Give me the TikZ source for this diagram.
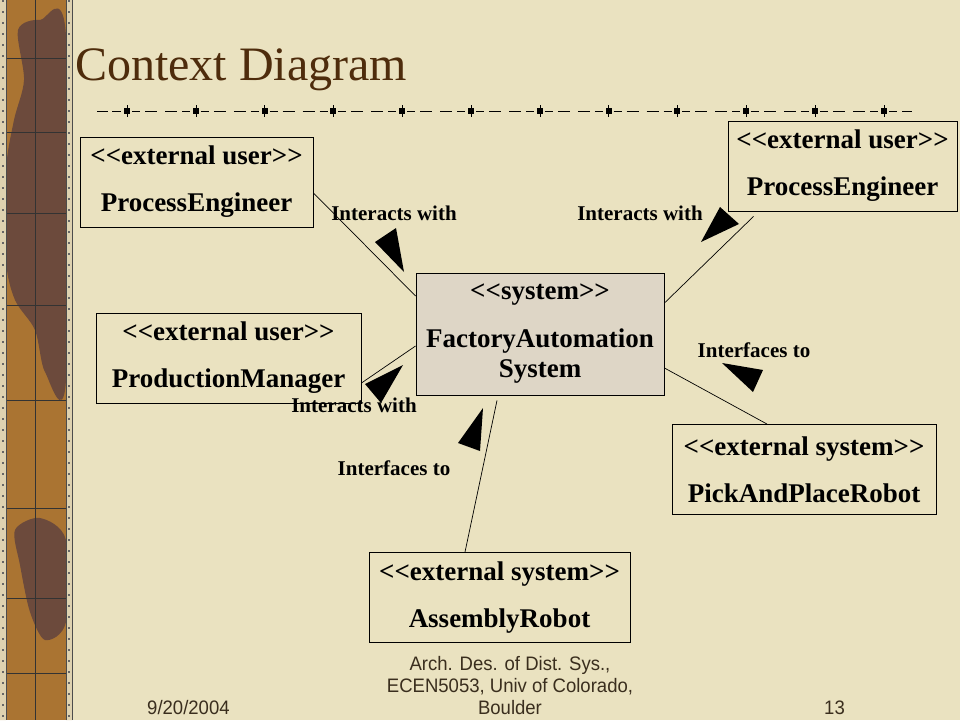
\documentclass[tikz,border=0pt]{standalone}
\usepackage{fontspec}
\setmainfont{Liberation Serif}
\newfontfamily\footfont[FakeStretch=0.95]{Liberation Sans}
\definecolor{paper}{RGB}{234,226,192}
\definecolor{sysfill}{RGB}{222,214,198}
\definecolor{titlebrown}{RGB}{78,44,12}
\definecolor{wood}{RGB}{170,116,50}
\definecolor{woodd}{RGB}{108,74,60}
\definecolor{rim}{RGB}{222,210,176}
\definecolor{footgray}{RGB}{58,46,30}
\newcommand\stereo[1]{\textless\kern0pt\textless#1\textgreater\kern0pt\textgreater}

\begin{document}
\begin{tikzpicture}[x=1pt,y=-1pt,
  box/.style={draw,line width=0.9pt,minimum height=90pt,align=center,inner sep=0pt,
    font=\fontsize{27}{27}\selectfont\bfseries},
  lab/.style={inner sep=0pt,font=\fontsize{21}{21}\selectfont\bfseries},
  link/.style={line width=0.7pt},
  foot/.style={inner sep=0pt,text=footgray,font=\footfont\fontsize{19.5}{22}\selectfont}]
\useasboundingbox (0,0) rectangle (960,720);
\fill[paper] (0,0) rectangle (960,720);
\fill[wood] (0,0) rectangle (72,720);
\fill[woodd] plot[smooth cycle] coordinates {(18,30) (40,20) (66,35) (66,380) (45,372) (35,330) (15,300) (6,260) (6,170) (14,120) (24,80)};
\fill[woodd] plot[smooth cycle] coordinates {(15,530) (40,518) (66,540) (66,622) (45,640) (30,612) (20,565)};
\draw[black!80] (35,0) -- (35,720);
\foreach \y in {58,132,213,305,400,508,598,673}
  \draw[black!80] (6,\y) -- (66,\y);
\fill[rim] (0,0) rectangle (6,720) (66,0) rectangle (72,720);
\draw[black!70,line width=1pt] (6,0) -- (6,720) (66,0) -- (66,720) (72,0) -- (72,720);
\draw[black!60,line width=1.5pt,dash pattern=on 2pt off 9pt] (3,0) -- (3,720) (69,0) -- (69,720);

\node[anchor=base west,inner sep=0pt,text=titlebrown,font=\fontsize{48}{48}\selectfont] (T) at (75,80) {Context Diagram};

\draw[line width=1pt,dash pattern=on 11pt off 4pt on 9pt] (97,111) -- (124,111);
\foreach \i in {0,...,10}
  \draw[line width=1pt,dash pattern=on 8pt off 5pt on 12pt off 8pt on 12pt off 5pt on 8pt off 20pt]
    ({127+68.8*\i+5},111) -- ({127+68.8*(\i+1)-3},111);
\draw[line width=1pt,dash pattern=on 8pt off 5pt on 12pt] (889,111) -- (912,111);
\foreach \i in {0,...,11}{
  \draw[line width=0.5pt] ({127+68.8*\i},105) -- ({127+68.8*\i},117);
  \fill ({127+68.8*\i-3},108) rectangle ({127+68.8*\i+3},114);
}

\node[box,minimum width=233pt] (PE) at (196.5,182) {\stereo{external user}\\[20pt]ProcessEngineer};
\node[box,minimum width=229pt] (PEr) at (842.5,166) {\stereo{external user}\\[20pt]ProcessEngineer};
\node[box,minimum width=265pt] (PM) at (228.5,358) {\stereo{external user}\\[20pt]ProductionManager};
\node[box,minimum width=248pt,minimum height=122pt,fill=sysfill] (S) at (540,334) {\stereo{system}\\[21pt]FactoryAutomation\\[3pt]System};
\node[box,minimum width=264pt] (PR) at (804,469.5) {\stereo{external system}\\[20pt]PickAndPlaceRobot};
\node[box,minimum width=261pt] (AR) at (499.5,597.5) {\stereo{external system}\\[20pt]AssemblyRobot};

\draw[link] ([yshift=-11pt]PE.east) -- ([yshift=38pt]S.west);
\draw[link] ([xshift=-89pt,yshift=-5pt]PEr.south) -- ([yshift=31pt]S.east);
\draw[link] ([yshift=-25pt]PM.east) -- ([yshift=-12pt]S.west);
\draw[link] ([yshift=-34pt]S.east) -- ([xshift=-37pt]PR.north);
\draw[link] ([xshift=-43pt,yshift=-5pt]S.south) -- ([xshift=-34.5pt]AR.north);

\node[lab] (L1) at (394,213) {Interacts with};
\node[lab] (L2) at (640,213) {Interacts with};
\node[lab] (L3) at (754,350) {Interfaces to};
\node[lab] (L4) at (354,405) {Interacts with};
\node[lab] (L5) at (394,468) {Interfaces to};

\fill (375,242) -- (396,228) -- (404,272) -- cycle;
\fill (701,242) -- (720,207) -- (739,224) -- cycle;
\fill (722,363) -- (763,370) -- (753,392) -- cycle;
\fill (365,384) -- (403,365) -- (381,403) -- cycle;
\fill (458,443) -- (483,408) -- (480,451) -- cycle;

\node[foot,align=center,anchor=base] (F) at (510,714) {Arch. Des. of Dist. Sys.,\\ECEN5053, Univ of Colorado,\\Boulder};
\node[foot,anchor=base west] (D) at (147,714) {9/20/2004};
\node[foot,anchor=base west] (N) at (824,714) {13};
\end{tikzpicture}
\end{document}
